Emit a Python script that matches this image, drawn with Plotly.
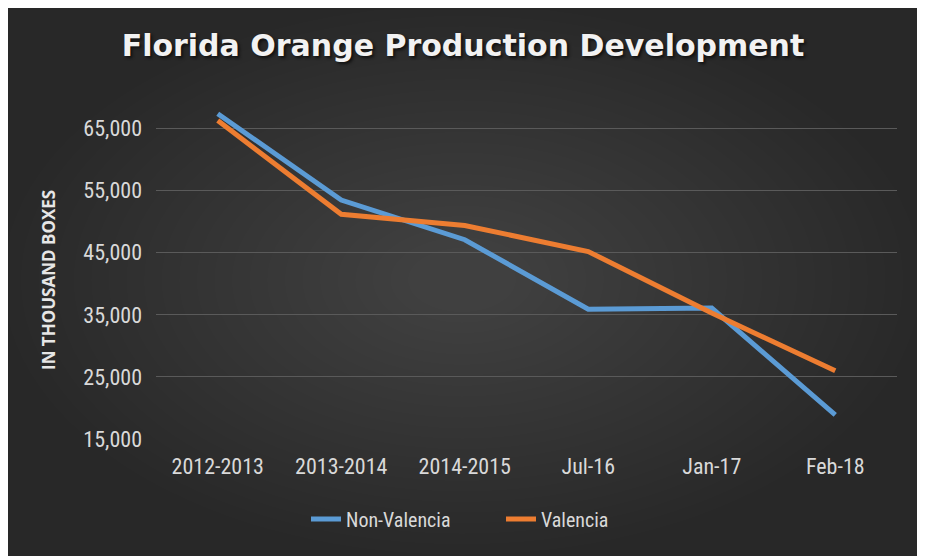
import plotly.graph_objects as go

categories = ["2012-2013", "2013-2014", "2014-2015", "Jul-16", "Jan-17", "Feb-18"]
non_valencia = [67400, 53500, 47100, 35900, 36100, 18900]
valencia = [66300, 51200, 49400, 45200, 35300, 26000]
y_ticks = [15000, 25000, 35000, 45000, 55000, 65000]
y_tick_labels = ["15,000", "25,000", "35,000", "45,000", "55,000", "65,000"]

OFF = 8  # default page body margin
W, H = 925 - OFF, 556 - OFF
# target screen positions of the plot area
sl, sr, st, sb = 156, 897, 110, 439
ml, mr, mt, mb = sl - OFF, W - (sr - OFF), st - OFF, H - (sb - OFF)
pw, ph = W - ml - mr, H - mt - mb

def px(x):
    return (x - OFF - ml) / pw

def py(y):
    return (H - mb - (y - OFF)) / ph

cond = "Liberation Sans Narrow, Roboto Condensed, Open Sans, sans-serif"
tick_font = dict(family=cond, size=22, color="#d9d9d9")

fig = go.Figure()
fig.add_trace(go.Scatter(x=categories, y=non_valencia, name="Non-Valencia", mode="lines",
                         line=dict(color="#5b9bd5", width=5)))
fig.add_trace(go.Scatter(x=categories, y=valencia, name="Valencia", mode="lines",
                         line=dict(color="#ed7d31", width=5)))

bx0, bx1, by0, by1 = 3, 922, 5, 570
shapes = [dict(type="rect", xref="paper", yref="paper", layer="below",
               x0=px(bx0), x1=px(bx1), y0=py(by1), y1=py(by0),
               fillcolor="#282828", line=dict(width=0))]
# soft radial glow (lighter centre, darker edges)
cx, cy = 462, 280
rx0, ry0 = cx - bx0, cy - by0
n = 24
for i in range(n):
    f = 1 - 0.92 * i / n
    rx, ry = rx0 * f, ry0 * f
    shapes.append(dict(type="circle", xref="paper", yref="paper", layer="below",
                       x0=px(cx - rx), x1=px(cx + rx),
                       y0=py(cy + ry), y1=py(cy - ry),
                       fillcolor="rgba(255,255,255,0.0085)", line=dict(width=0)))

fig.update_layout(
    width=W, height=H,
    margin=dict(l=ml, r=mr, t=mt, b=mb, autoexpand=False),
    paper_bgcolor="white",
    plot_bgcolor="rgba(0,0,0,0)",
    shapes=shapes,
    title=dict(text="Florida Orange Production Development", x=px(463), xref="paper",
               xanchor="center", y=1 - (45 - OFF) / H, yref="container", yanchor="middle",
               font=dict(family="DejaVu Sans, sans-serif", size=30, color="#f2f2f2", weight="bold",
                         shadow="2px 2px 3px #111")),
    annotations=[dict(text="IN THOUSAND BOXES", textangle=-90, showarrow=False,
                      xref="paper", yref="paper", x=px(48), y=py(280),
                      xanchor="center", yanchor="middle",
                      font=dict(family="Open Sans, sans-serif", size=17, color="#e6e6e6", weight="bold"))],
    xaxis=dict(showgrid=False, tickfont=tick_font, ticks="", showline=False, zeroline=False,
               range=[-0.5, 5.5], fixedrange=True, automargin=False, ticklabelstandoff=12),
    yaxis=dict(range=[15000, 68000], tickvals=y_ticks, ticktext=y_tick_labels,
               tickfont=tick_font, gridcolor="#5a5a5a", gridwidth=1, zeroline=False,
               showline=False, ticks="", ticklabelstandoff=13, automargin=False),
    legend=dict(orientation="h", x=px(306), xanchor="left",
                y=py(519), yanchor="middle", entrywidth=150, entrywidthmode="pixels",
                font=dict(family=cond, size=20, color="#d9d9d9"),
                bgcolor="rgba(0,0,0,0)", tracegroupgap=0),
    showlegend=True,
)

fig.write_html("out.html")
